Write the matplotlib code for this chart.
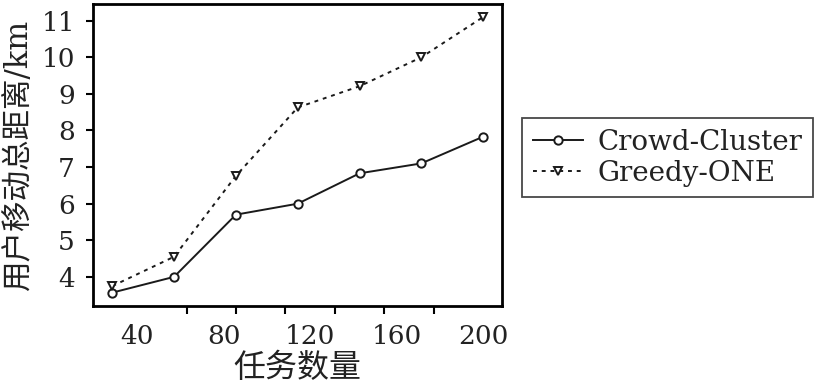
import numpy as np
import matplotlib
matplotlib.use("Agg")
import matplotlib.pyplot as plt

plt.rcParams['font.family'] = ['DejaVu Serif', 'Noto Sans CJK SC']

# data
tasks = [28.6, 57.1, 85.7, 114.3, 142.9, 171.4, 200]
crowd_cluster = [3.57, 4.00, 5.70, 6.00, 6.83, 7.10, 7.83]
greedy_one = [3.75, 4.55, 6.76, 8.63, 9.21, 10.00, 11.10]
x_labels = [40, 80, 120, 160, 200]
y_ticks = [4, 5, 6, 7, 8, 9, 10, 11]

fig = plt.figure(figsize=(8.3, 3.88), dpi=100)
ax = fig.add_axes([0.112, 0.211, 0.493, 0.779])

ax.plot(tasks, crowd_cluster, '-', color='#1a1a1a', lw=1.4, marker='o',
        ms=6, mfc='white', mec='#1a1a1a', mew=1.4, label='Crowd-Cluster')
ax.plot(tasks, greedy_one, ':', color='#1a1a1a', lw=1.4, marker='v',
        ms=6, mfc='white', mec='#1a1a1a', mew=1.4, label='Greedy-ONE',
        dashes=(2, 2.5))

ax.set_xlim(19.6, 208.8)
ax.set_ylim(3.2, 11.46)

# tick marks (minor) and labels (major, no mark) do not line up in the original
ax.set_xticks(np.linspace(40, 200, 8), minor=True)
ax.set_xticks(x_labels)
ax.set_xticklabels([str(v) for v in x_labels])
ax.tick_params(axis='x', which='major', length=0, pad=13, labelsize=19,
               labelcolor='#222222')
ax.tick_params(axis='x', which='minor', length=6, width=1.5, direction='out')

ax.set_yticks(y_ticks)
ax.tick_params(axis='y', length=5, width=1.5, direction='out', pad=8,
               labelsize=19, labelcolor='#222222')

for s in ax.spines.values():
    s.set_linewidth(2)

ax.set_xlabel('任务数量', fontsize=23, labelpad=3, color='#222222')
ax.set_ylabel('用户移动总距离/km', fontsize=22, labelpad=5, color='#222222')

leg = fig.legend(loc='upper left', bbox_to_anchor=(0.629, 0.696), fontsize=20,
                 frameon=True, fancybox=False, edgecolor='#1a1a1a',
                 borderaxespad=0, handlelength=1.8, handletextpad=0.55,
                 labelspacing=0.15, borderpad=0.38)
leg.get_frame().set_linewidth(1.3)
for t in leg.get_texts():
    t.set_color('#222222')

fig.savefig('out.png', dpi=100)
